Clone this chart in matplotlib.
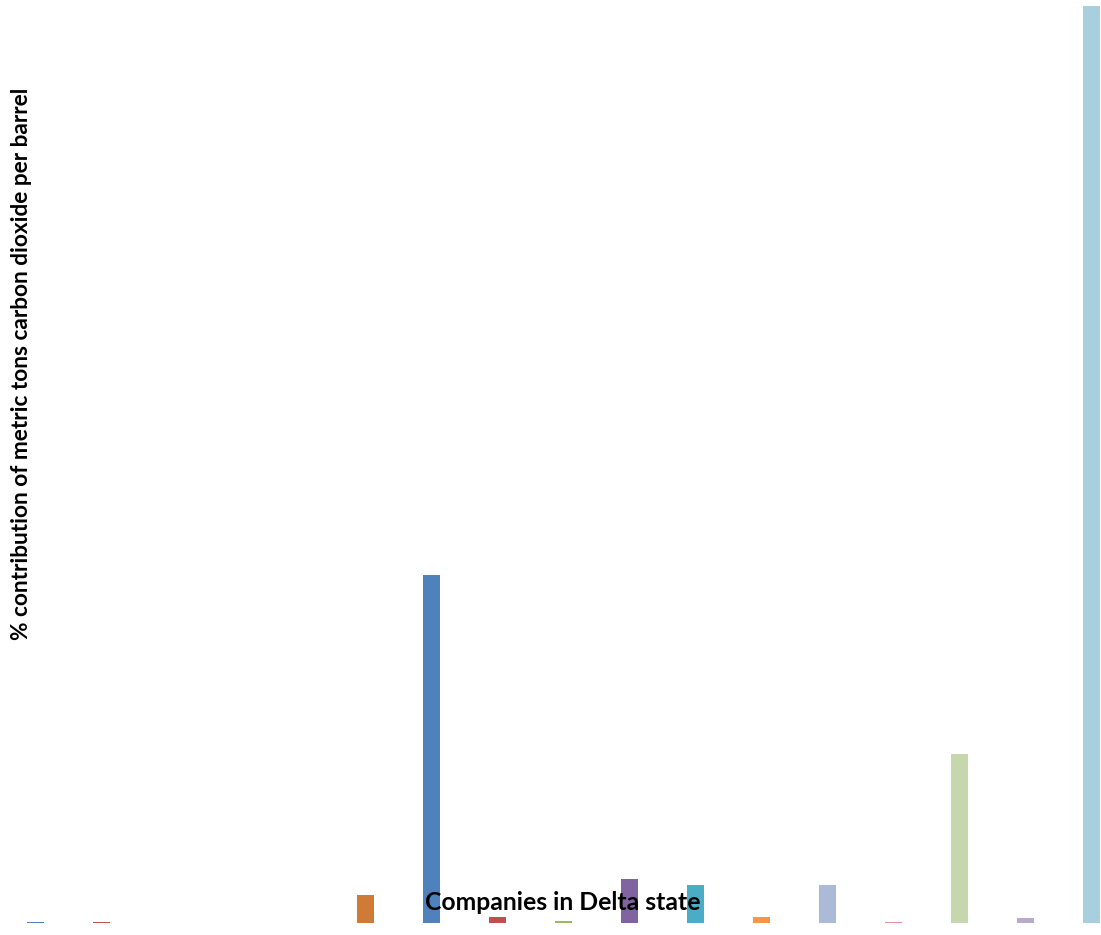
import matplotlib
matplotlib.use("Agg")
import matplotlib.pyplot as plt
import numpy as np

# Company slots along the x axis (names are not printed on the chart)
companies = list(range(1, 18))

# Percentage contribution of each company
contribution = [0.06, 0.06, 0.0, 0.0, 0.0, 1.75, 21.7, 0.37, 0.12,
                2.74, 2.37, 0.37, 2.37, 0.06, 10.5, 0.31, 57.2]

bar_colors = ["#4F81BD", "#C0504D", "#9BBB59", "#8064A2", "#4BACC6",
              "#CF7A35", "#4F81BD", "#C0504D", "#9BBB59", "#8064A2",
              "#4BACC6", "#F79646", "#AABAD7", "#D99694", "#C6D7AE",
              "#B6ABCA", "#A8CFDD"]

W, H = 1101, 935
fig = plt.figure(figsize=(W / 100, H / 100), dpi=100)
fig.patch.set_facecolor("white")

# Plot area: runs past the right edge of the figure
left_px, right_px = 2.2, 1124.2
bottom_px, top_px = 922.7, 0.0
ax = fig.add_axes([left_px / W, (H - bottom_px) / H,
                   (right_px - left_px) / W, (bottom_px - top_px) / H])

x = np.arange(len(companies))
ax.bar(x, contribution, width=17 / 66, color=bar_colors, linewidth=0)
ax.set_xlim(-0.5, len(companies) - 0.5)
ax.set_ylim(0, 57.2 * 922.7 / 917)

ax.set_axis_off()

font = ["Lato", "DejaVu Sans"]
fig.text(563 / W, (H - 903) / H, "Companies in Delta state",
         ha="center", va="center", fontsize=17.8, fontweight="bold",
         family=font, color="black")
fig.text(22 / W, (H - 364) / H,
         "% contribution of metric tons carbon dioxide per barrel",
         ha="center", va="center", rotation=90, fontsize=16.3,
         fontweight="bold", family=font, color="black")

fig.savefig("out.png", dpi=100, facecolor="white")
